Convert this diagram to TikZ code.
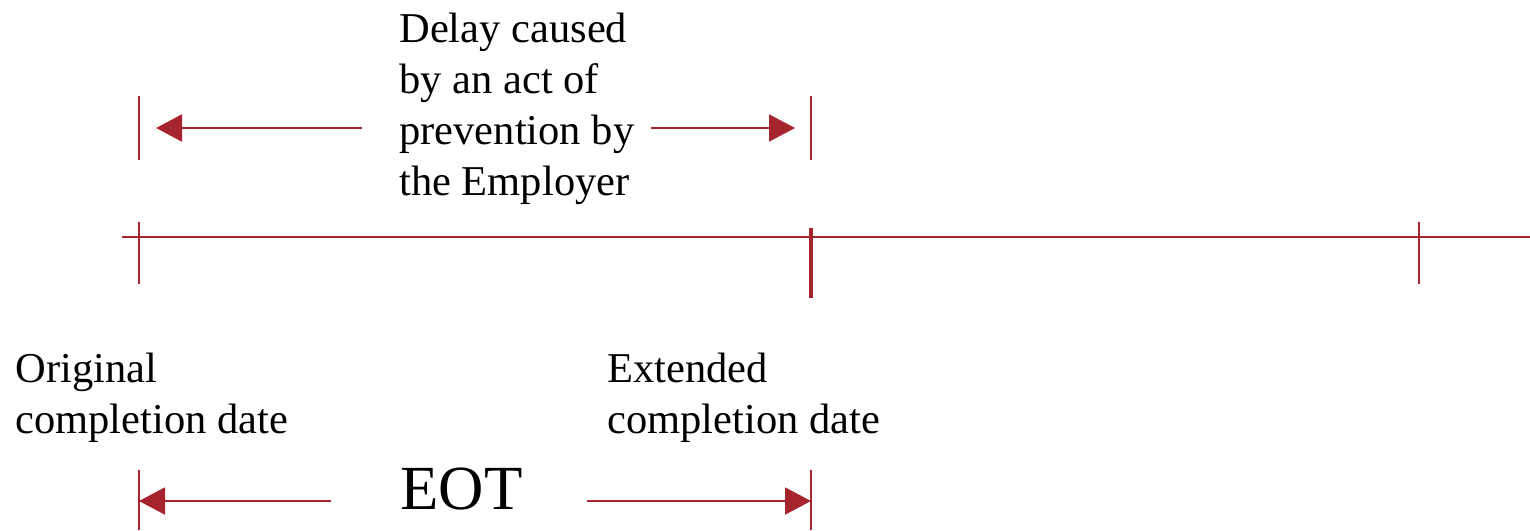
\documentclass[tikz,border=0pt]{standalone}
\usepackage{fontspec}
\setmainfont{Liberation Serif}
\usetikzlibrary{arrows.meta}
\definecolor{dred}{RGB}{166,36,46}
\begin{document}
\begin{tikzpicture}[x=0.5pt,y=-0.5pt,
  ln/.style={draw=dred,line width=1pt},
  arr/.style={draw=dred,line width=1pt,-{Triangle[length=13pt,width=13.5pt]}},
  lbl/.style={inner sep=0pt,anchor=base west,align=left,font=\fontsize{21.25pt}{25.5pt}\selectfont}]
\useasboundingbox (0,0) rectangle (1530,530);
% main time line
\coordinate (mL) at (122,237);
\coordinate (mR) at (1530,237);
\draw[ln] (mL) -- (mR);
\coordinate (t1a) at (139,222); \coordinate (t1b) at (139,284);
\coordinate (t2a) at (811,228); \coordinate (t2b) at (811,298);
\coordinate (t3a) at (1419,222); \coordinate (t3b) at (1419,284);
\draw[ln] (t1a) -- (t1b);
\draw[ln,line width=1.6pt] (t2a) -- (t2b);
\draw[ln] (t3a) -- (t3b);
% top delay bracket
\coordinate (u1a) at (139,96); \coordinate (u1b) at (139,160);
\coordinate (u2a) at (811,96); \coordinate (u2b) at (811,160);
\draw[ln] (u1a) -- (u1b);
\draw[ln] (u2a) -- (u2b);
\coordinate (ua) at (362,128); \coordinate (uat) at (156,128);
\coordinate (ub) at (651,128); \coordinate (ubt) at (795,128);
\draw[arr] (ua) -- (uat);
\draw[arr] (ub) -- (ubt);
\node[lbl] (delay) at (399,195) {Delay caused\\by an act of\\prevention by\\the Employer};
% labels
\node[lbl] (orig) at (15,433) {Original\\completion date};
\node[lbl] (ext) at (607,433) {Extended\\completion date};
% bottom EOT bracket
\coordinate (b1a) at (139,470); \coordinate (b1b) at (139,530);
\coordinate (b2a) at (811,470); \coordinate (b2b) at (811,530);
\draw[ln] (b1a) -- (b1b);
\draw[ln] (b2a) -- (b2b);
\coordinate (ba) at (331,501); \coordinate (bat) at (139,501);
\coordinate (bb) at (587,501); \coordinate (bbt) at (811,501);
\draw[arr] (ba) -- (bat);
\draw[arr] (bb) -- (bbt);
\node[inner sep=0pt,anchor=base west,font=\fontsize{31.4pt}{36pt}\selectfont] (eot) at (400,509) {EOT};
\end{tikzpicture}
\end{document}
